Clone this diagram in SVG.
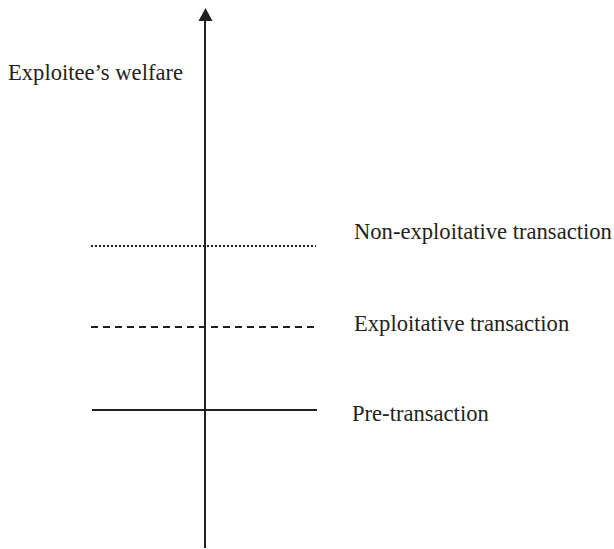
<svg xmlns="http://www.w3.org/2000/svg" width="614" height="549" viewBox="0 0 614 549">
<style>
text{font-family:"Liberation Serif","Times New Roman",serif;font-size:22.6px;fill:#231f20}
.ln{stroke:#231f20;stroke-width:2;fill:none}
</style>
<rect width="614" height="549" fill="#fff"/>
<g id="connectors">
<line class="ln" x1="205" y1="548" x2="205" y2="20"/>
<path d="M198.5,21 L205.5,8 L212.5,21 Z" fill="#231f20"/>
<line class="ln" x1="91" y1="246" x2="316" y2="246" stroke-dasharray="2,2"/>
<line class="ln" x1="91" y1="327" x2="316" y2="327" stroke-dasharray="7,5"/>
<line class="ln" x1="92" y1="410" x2="317" y2="410"/>
</g>
<g id="axis-label"><text x="8" y="80">Exploitee’s welfare</text></g>
<g id="non-exploitative"><text x="354" y="239">Non-exploitative transaction</text></g>
<g id="exploitative"><text x="354" y="331">Exploitative transaction</text></g>
<g id="pre-transaction"><text x="352" y="421">Pre-transaction</text></g>
</svg>
